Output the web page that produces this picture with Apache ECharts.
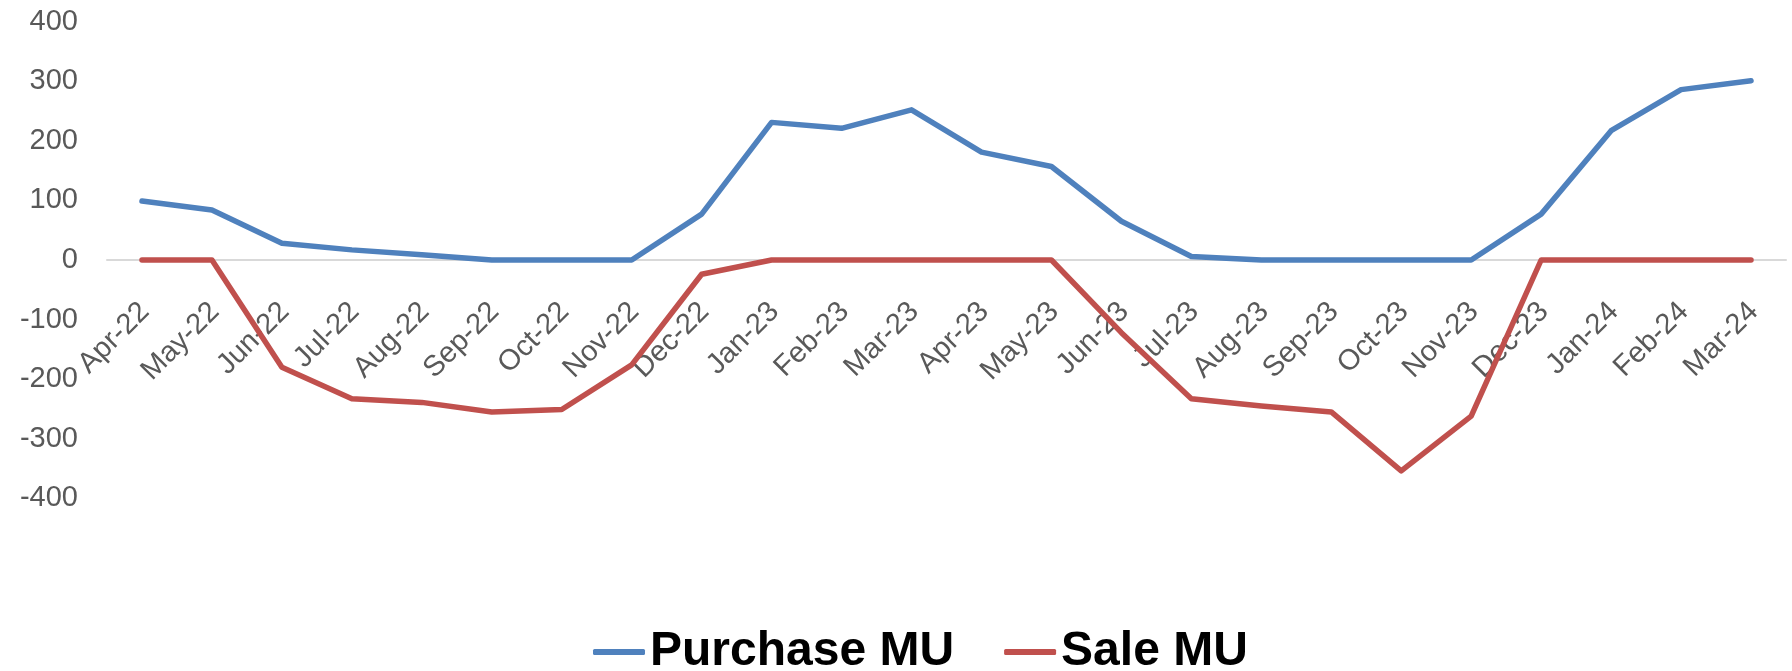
<!DOCTYPE html>
<html>
<head>
<meta charset="utf-8">
<script src="https://cdn.jsdelivr.net/npm/echarts@6/dist/echarts.min.js"></script>
<style>
html,body{margin:0;padding:0;background:#fff;}
#chart{width:1792px;height:671px;}
</style>
</head>
<body>
<div id="chart"></div>
<script>
const categories = ["Apr-22","May-22","Jun-22","Jul-22","Aug-22","Sep-22","Oct-22","Nov-22","Dec-22","Jan-23","Feb-23","Mar-23","Apr-23","May-23","Jun-23","Jul-23","Aug-23","Sep-23","Oct-23","Nov-23","Dec-23","Jan-24","Feb-24","Mar-24"];
const purchaseMU = [99,84,28,17,9,0,0,0,77,231,221,252,181,157,65,6,0,0,0,0,77,217,286,301];
const saleMU = [0,0,-180,-233,-239,-255,-251,-176,-24,0,0,0,0,0,-122,-233,-245,-255,-354,-262,0,0,0,0];
const yTicks = {min:-400, max:400, interval:100};

const gridTop = 21.7, gridBottom = 172.7;
const gridH = 671 - gridTop - gridBottom;
const chart = echarts.init(document.getElementById('chart'), null, {renderer:'canvas'});
const labelFont = "'Liberation Sans', Arial, sans-serif";
chart.setOption({
  animation:false,
  backgroundColor:'#ffffff',
  grid:{left:107, right:6, top:gridTop, bottom:gridBottom, containLabel:false, outerBoundsMode:'none'},
  legend:{
    bottom:-10, left:588,
    itemWidth:52, itemHeight:6, itemGap:50,
    icon:'roundRect',
    textStyle:{fontFamily:"'Liberation Sans', Arial, sans-serif", fontWeight:'bold', fontSize:48, color:'#000'},
    data:['Purchase MU','Sale MU']
  },
  xAxis:{
    type:'category', data:categories, boundaryGap:true,
    offset: -gridH * (0 - yTicks.min) / (yTicks.max - yTicks.min),
    axisLine:{onZero:false, lineStyle:{color:'#D9D9D9', width:2}},
    axisTick:{show:false},
    axisLabel:{rotate:45, margin:50, padding:[0,-4,0,0], interval:0, color:'#595959', fontSize:29, fontFamily:labelFont}
  },
  yAxis:{
    type:'value', min:yTicks.min, max:yTicks.max, interval:yTicks.interval,
    axisLine:{show:false}, axisTick:{show:false}, splitLine:{show:false},
    axisLabel:{margin:29, color:'#595959', fontSize:29, fontFamily:labelFont}
  },
  series:[
    {name:'Purchase MU', type:'line', data:purchaseMU, symbol:'none', lineStyle:{color:'#4F81BD', width:5.5, cap:'round', join:'round'}, itemStyle:{color:'#4F81BD'}},
    {name:'Sale MU', type:'line', data:saleMU, symbol:'none', lineStyle:{color:'#C0504D', width:5.5, cap:'round', join:'round'}, itemStyle:{color:'#C0504D'}}
  ]
});
</script>
</body>
</html>
